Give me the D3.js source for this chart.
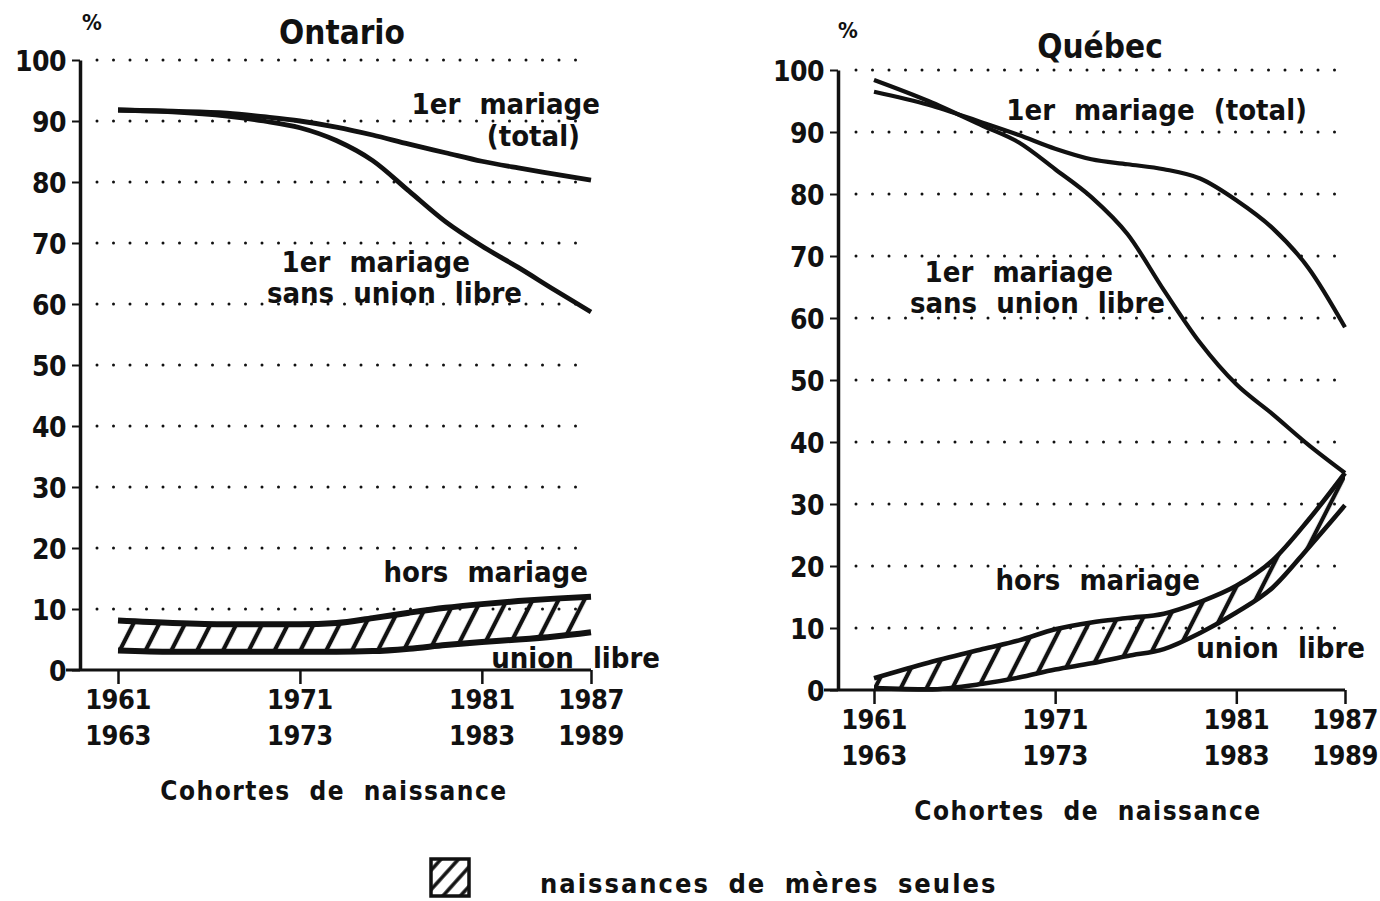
<!DOCTYPE html>
<html>
<head>
<meta charset="utf-8">
<script src="https://cdn.jsdelivr.net/npm/d3@7"></script>
<style>
  body { margin: 0; background: #fff; }
  svg text {
    font-family: "Liberation Sans Narrow", "DejaVu Sans Condensed", "Arial Narrow", sans-serif;
    font-weight: bold;
    fill: #111;
  }
</style>
</head>
<body>
<svg id="chart" width="1380" height="901"></svg>
<script>
// Cohortes de naissance (premiere annee du groupe de 3 ans)
var years = [1961, 1964, 1967, 1969, 1971, 1973, 1975, 1977, 1979, 1981, 1983, 1985, 1987];

// Ontario
var ontTotal   = [91.8, 91.6, 91.3, 90.7, 90.0, 89.0, 87.7, 86.2, 84.8, 83.4, 82.3, 81.3, 80.3];
var ontSansUL  = [91.8, 91.5, 90.8, 90.0, 88.9, 86.8, 83.5, 78.5, 73.5, 69.5, 66.0, 62.3, 58.7];
var ontHors    = [8.1, 7.7, 7.5, 7.5, 7.5, 7.7, 8.5, 9.4, 10.2, 10.8, 11.3, 11.7, 12.0];
var ontUnion   = [3.2, 3.0, 3.0, 3.0, 3.0, 3.0, 3.1, 3.5, 4.1, 4.6, 5.0, 5.5, 6.2];

// Québec
var qcTotal    = [96.5, 94.4, 91.5, 89.5, 87.3, 85.6, 84.8, 84.0, 82.5, 79.0, 74.5, 68.0, 58.5];
var qcSansUL   = [98.4, 95.0, 91.0, 88.3, 84.0, 79.5, 73.5, 64.5, 56.0, 49.3, 44.5, 39.5, 35.0];
var qcHors     = [1.9, 4.4, 6.6, 8.0, 9.8, 10.9, 11.6, 12.3, 14.2, 16.8, 20.9, 27.5, 35.0];
var qcUnion    = [0.3, 0.1, 1.0, 2.0, 3.3, 4.3, 5.5, 6.6, 9.2, 12.5, 16.5, 23.0, 29.8];

var yTicks = [0, 10, 20, 30, 40, 50, 60, 70, 80, 90, 100];
var xTicks = [1961, 1971, 1981, 1987];
var xTickLabels = [["1961", "1963"], ["1971", "1973"], ["1981", "1983"], ["1987", "1989"]];

var svg = d3.select("#chart");
var defs = svg.append("defs");

defs.append("pattern")
    .attr("id", "hatch")
    .attr("patternUnits", "userSpaceOnUse")
    .attr("width", 23).attr("height", 23)
    .attr("patternTransform", "rotate(27)")
  .append("line")
    .attr("x1", 11).attr("y1", 0).attr("x2", 11).attr("y2", 23)
    .attr("stroke", "#111").attr("stroke-width", 4.2);

defs.append("pattern")
    .attr("id", "hatchLegend")
    .attr("patternUnits", "userSpaceOnUse")
    .attr("width", 13).attr("height", 13)
    .attr("patternTransform", "translate(434,858) rotate(42)")
  .append("line")
    .attr("x1", 6).attr("y1", 0).attr("x2", 6).attr("y2", 13)
    .attr("stroke", "#111").attr("stroke-width", 3.5);

var panels = [
  {
    name: "Ontario", left: 118, right: 591, top: 60, bottom: 670,
    axisX: 80, gridStart: 97, gridEnd: 592,
    total: ontTotal, sansUL: ontSansUL, hors: ontHors, union: ontUnion,
    lineW: 4.8, bandW: 6,
    pct: [92, 30], title: [342, 44],
    tickRow: [709, 745], xTitle: [334, 800],
    labels: [
      { t: "1er mariage", x: 600, y: 114, a: "end" },
      { t: "(total)", x: 580, y: 146, a: "end" },
      { t: "1er mariage", x: 470, y: 272, a: "end" },
      { t: "sans union libre", x: 522, y: 303, a: "end" },
      { t: "hors mariage", x: 588, y: 582, a: "end" },
      { t: "union libre", x: 660, y: 668, a: "end" }
    ]
  },
  {
    name: "Québec", left: 874, right: 1345, top: 70, bottom: 690,
    axisX: 838, gridStart: 856, gridEnd: 1348,
    total: qcTotal, sansUL: qcSansUL, hors: qcHors, union: qcUnion,
    lineW: 4.2, bandW: 4.6,
    pct: [848, 38], title: [1100, 58],
    tickRow: [729, 765], xTitle: [1088, 820],
    labels: [
      { t: "1er mariage (total)", x: 1307, y: 120, a: "end" },
      { t: "1er mariage", x: 1113, y: 282, a: "end" },
      { t: "sans union libre", x: 1165, y: 313, a: "end" },
      { t: "hors mariage", x: 1200, y: 590, a: "end" },
      { t: "union libre", x: 1365, y: 658, a: "end" }
    ]
  }
];

panels.forEach(drawPanel);

function drawPanel(p) {
  var x = d3.scaleLinear().domain([1961, 1987]).range([p.left, p.right]);
  var y = d3.scaleLinear().domain([0, 100]).range([p.bottom, p.top]);
  var g = svg.append("g");

  // dotted grid
  g.selectAll(".grid")
    .data(yTicks.filter(function (d) { return d > 0; }))
    .enter().append("line")
    .attr("x1", p.gridStart).attr("x2", p.gridEnd)
    .attr("y1", function (d) { return y(d); })
    .attr("y2", function (d) { return y(d); })
    .attr("stroke", "#111")
    .attr("stroke-width", 3)
    .attr("stroke-linecap", "round")
    .attr("stroke-dasharray", "0 16.5");

  // hatched band between hors mariage and union libre
  var band = d3.area()
    .x(function (d, i) { return x(years[i]); })
    .y0(function (d) { return y(d[1]); })
    .y1(function (d) { return y(d[0]); })
    .curve(d3.curveMonotoneX);

  g.append("path")
    .datum(d3.zip(p.hors, p.union))
    .attr("d", band)
    .attr("fill", "url(#hatch)");

  var line = d3.line()
    .x(function (d, i) { return x(years[i]); })
    .y(function (d) { return y(d); })
    .curve(d3.curveMonotoneX);

  [[p.hors, p.bandW], [p.union, p.bandW], [p.total, p.lineW], [p.sansUL, p.lineW]].forEach(function (s) {
    g.append("path")
      .datum(s[0])
      .attr("d", line)
      .attr("fill", "none")
      .attr("stroke", "#111")
      .attr("stroke-width", s[1])
      .attr("stroke-linejoin", "round");
  });

  // y axis
  var yAxis = g.append("g")
    .attr("transform", "translate(" + p.axisX + ",0)")
    .call(d3.axisLeft(y).tickValues(yTicks).tickSize(8).tickSizeOuter(0).tickPadding(6));
  yAxis.attr("font-family", null).attr("font-size", null);
  yAxis.select(".domain").attr("stroke", "#111").attr("stroke-width", 3.5);
  yAxis.selectAll(".tick line").attr("stroke", "#111").attr("stroke-width", 2);
  yAxis.selectAll(".tick text").style("font-size", "28px").style("letter-spacing", "-0.5px").attr("dy", "0.36em");

  // x axis
  g.append("line")
    .attr("x1", p.axisX - 14).attr("x2", x(1987))
    .attr("y1", y(0)).attr("y2", y(0))
    .attr("stroke", "#111").attr("stroke-width", 3);

  var xAxis = g.append("g")
    .attr("transform", "translate(0," + y(0) + ")")
    .call(d3.axisBottom(x).tickValues(xTicks).tickSize(14).tickSizeOuter(0).tickFormat(""));
  xAxis.select(".domain").remove();
  xAxis.selectAll(".tick line").attr("stroke", "#111").attr("stroke-width", 2.5);

  xTicks.forEach(function (t, i) {
    xTickLabels[i].forEach(function (lab, j) {
      g.append("text")
        .attr("x", x(t)).attr("y", p.tickRow[j])
        .attr("text-anchor", "middle")
        .style("font-size", "27px")
        .style("letter-spacing", "-0.5px")
        .text(lab);
    });
  });

  g.append("text")
    .attr("x", p.xTitle[0]).attr("y", p.xTitle[1])
    .attr("text-anchor", "middle")
    .style("font-size", "26px").style("letter-spacing", "1.5px").style("word-spacing", "9px")
    .text("Cohortes de naissance");

  g.append("text")
    .attr("x", p.pct[0]).attr("y", p.pct[1])
    .attr("text-anchor", "middle")
    .style("font-size", "22px")
    .text("%");

  g.append("text")
    .attr("x", p.title[0]).attr("y", p.title[1])
    .attr("text-anchor", "middle")
    .style("font-size", "33px")
    .text(p.name);

  g.selectAll(".lab")
    .data(p.labels)
    .enter().append("text")
    .attr("x", function (d) { return d.x; })
    .attr("y", function (d) { return d.y; })
    .attr("text-anchor", function (d) { return d.a; })
    .style("font-size", "29px")
    .style("word-spacing", "10px")
    .text(function (d) { return d.t; });
}

// legend
svg.append("rect")
  .attr("x", 431).attr("y", 859).attr("width", 38).attr("height", 37)
  .attr("fill", "url(#hatchLegend)")
  .attr("stroke", "#111").attr("stroke-width", 3.5);

svg.append("text")
  .attr("x", 540).attr("y", 893)
  .style("font-size", "27px").style("letter-spacing", "2px").style("word-spacing", "8px")
  .text("naissances de mères seules");
</script>
</body>
</html>
